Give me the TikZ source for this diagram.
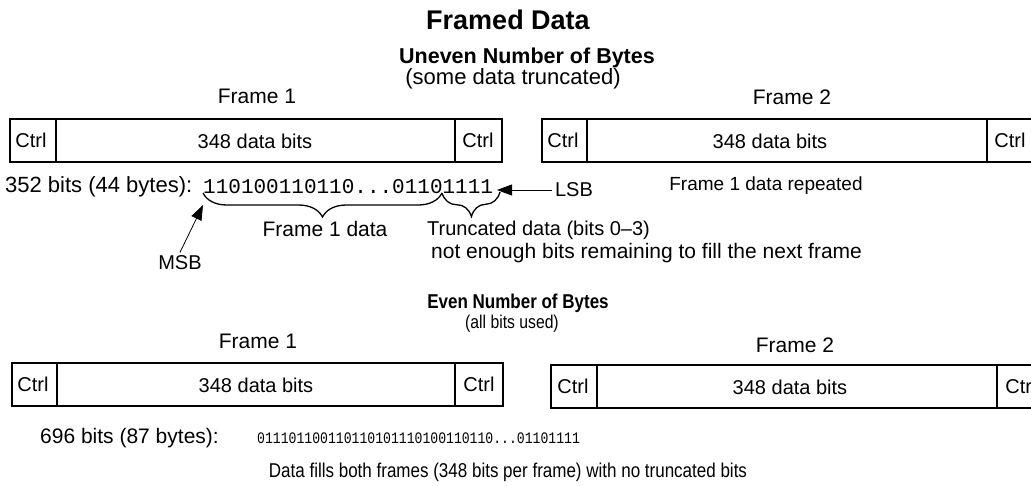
\documentclass[tikz,border=0pt]{standalone}
\usepackage{fontspec}
\setmainfont{Liberation Sans}
\setmonofont{Liberation Mono}
\newfontfamily\narrowfont[FakeStretch=0.85]{Liberation Sans}
\newfontfamily\narrowmono[FakeStretch=0.82]{Liberation Mono}
\usetikzlibrary{decorations.pathreplacing, arrows.meta}

\tikzset{
  frame/.style={draw, line width=1.8pt},
  txt/.style={font=\fontsize{21}{25}\selectfont},
  boxtxt/.style={font=\fontsize{20}{24}\selectfont},
  narrowtxt/.style={font=\narrowfont\fontsize{20}{24}\selectfont},
  bits/.style={font=\ttfamily\fontsize{21}{24}\selectfont, inner sep=0pt},
  smallbits/.style={font=\narrowmono\fontsize{16}{19}\selectfont, inner sep=0pt},
  curly/.style={decorate, decoration={brace, mirror, amplitude=24pt}, line width=1.3pt},
  pointer/.style={line width=0.8pt, -{Triangle[length=15pt,width=11pt]}},
}

\begin{document}
\begin{tikzpicture}[x=1pt, y=-1pt]
   \useasboundingbox (0,0) rectangle (1031,485);
   \clip (0,0) rectangle (1031,485);

    % Titles
    \node (title) at (508,20) [font=\bfseries\fontsize{27}{32}\selectfont] {Framed Data};
    \node (uneven) at (527,58) [font=\bfseries\fontsize{21.5}{25}\selectfont] {Uneven Number of Bytes};
    \node (unevensub) at (513,79) [font=\fontsize{22}{25}\selectfont] {(some data truncated)};

    % Uneven case: the two frames
    \node (ufone) at (257,96) [txt] {Frame 1};
    \node (uftwo) at (792,97) [txt] {Frame 2};

    \draw[frame] (10,119) rectangle (502,162);
    \draw[frame] (56,119) -- (56,162);
    \draw[frame] (455,119) -- (455,162);
    \node (uctrla) at (31,140) [boxtxt] {Ctrl};
    \node (udataa) at (255,141) [boxtxt] {348 data bits};
    \node (uctrlb) at (478,140) [boxtxt] {Ctrl};

    \draw[frame] (542,119) rectangle (1040,162);
    \draw[frame] (587,119) -- (587,162);
    \draw[frame] (987,119) -- (987,162);
    \node (uctrlc) at (563,140) [boxtxt] {Ctrl};
    \node (udatab) at (770,141) [boxtxt] {348 data bits};
    \node (uctrld) at (1010,140) [boxtxt] {Ctrl};

    % Uneven case: the bit string
    \node (ucount) at (5,187) [font=\fontsize{22}{25}\selectfont, anchor=west, inner sep=0pt] {352 bits (44 bytes):};
    \node (ustring) at (203,187) [bits, anchor=west] {110100110110...01101111};
    \node (repeat) at (766,186) [font=\fontsize{19}{23}\selectfont] {Frame 1 data repeated};

    \coordinate (msbtip) at (203,205);
    \coordinate (braceA) at (203,193);
    \coordinate (braceB) at (442,193);
    \coordinate (braceC) at (500,192);
    \coordinate (lsbtip) at (497,190);

    \draw[curly] (braceA) -- (braceB);
    \draw[curly] (braceB) -- (braceC);

    \node (LSB) at (574,190) [boxtxt] {LSB};
    \draw[pointer] (LSB.west) -- (lsbtip);

    \node (fdata) at (325,229) [txt] {Frame 1 data};
    \node (trunc) at (427,230) [boxtxt, anchor=west, inner sep=0pt] {Truncated data (bits 0--3)};
    \node (notenough) at (431,253) [txt, anchor=west, inner sep=0pt] {not enough bits remaining to fill the next frame};

    \node (MSB) at (180,263) [boxtxt] {MSB};
    \draw[pointer] (MSB.north) -- (msbtip);

    % Even case
    \node (even) at (518,303) [font=\narrowfont\bfseries\fontsize{20}{24}\selectfont] {Even Number of Bytes};
    \node (evensub) at (512,324) [font=\narrowfont\fontsize{18.5}{22}\selectfont] {(all bits used)};

    \node (efone) at (258,341) [txt] {Frame 1};
    \node (eftwo) at (795,345) [txt] {Frame 2};

    \draw[frame] (12,363) rectangle (503,406);
    \draw[frame] (57,363) -- (57,406);
    \draw[frame] (455,363) -- (455,406);
    \node (ectrla) at (33,384) [boxtxt] {Ctrl};
    \node (edataa) at (256,385) [boxtxt] {348 data bits};
    \node (ectrlb) at (479,384) [boxtxt] {Ctrl};

    \draw[frame] (551,365) rectangle (1045,408);
    \draw[frame] (597,365) -- (597,408);
    \draw[frame] (997,365) -- (997,408);
    \node (ectrlc) at (573,386) [boxtxt] {Ctrl};
    \node (edatab) at (790,387) [boxtxt] {348 data bits};
    \node (ectrld) at (1021,386) [boxtxt] {Ctrl};

    % Even case: the bit string
    \node (ecount) at (40,438) [font=\fontsize{21}{25}\selectfont, anchor=west, inner sep=0pt] {696 bits (87 bytes):};
    \node (estring) at (257,438) [smallbits, anchor=west] {011101100110110101110100110110...01101111};
    \node (fills) at (508,472) [narrowtxt] {Data fills both frames (348 bits per frame) with no truncated bits};

\end{tikzpicture}
\end{document}
